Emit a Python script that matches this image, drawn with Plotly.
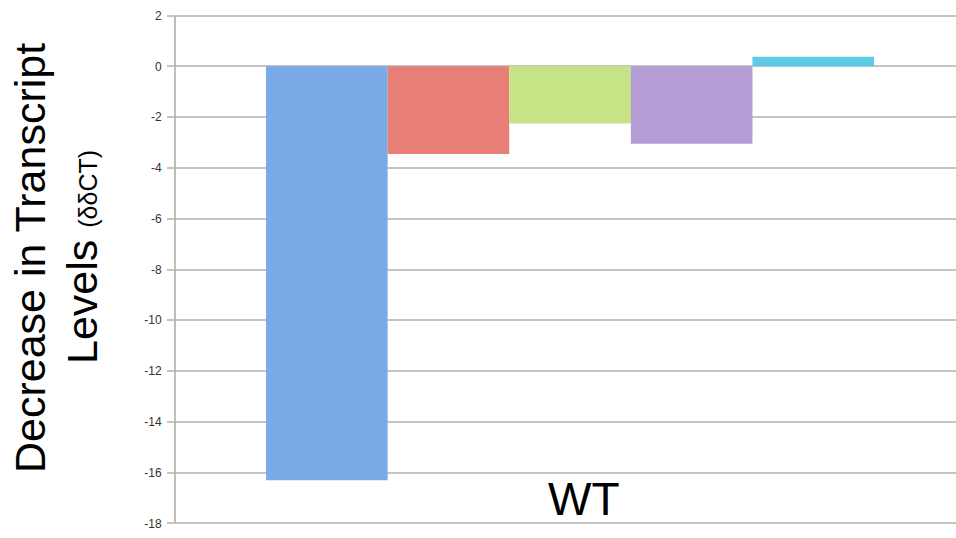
import plotly.graph_objects as go

category = ["WT"]
series_names = ["Gene 1", "Gene 2", "Gene 3", "Gene 4", "Gene 5"]
series_values = [-16.3, -3.45, -2.25, -3.05, 0.38]
series_colors = ["#78abe7", "#e87f77", "#c6e385", "#b39dd4", "#5ccbe3"]
y_ticks = [2, 0, -2, -4, -6, -8, -10, -12, -14, -16, -18]

W, H = 956, 538
ML, MR, MT, MB = 175, 0, 12.5, 11.5
PW = W - ML - MR
PH = H - MT - MB

fig = go.Figure()
for name, val, col in zip(series_names, series_values, series_colors):
    fig.add_trace(go.Bar(x=category, y=[val], name=name,
                         marker=dict(color=col, line=dict(width=0))))

def px_to_paper_x(px):
    return (px - ML) / PW

def px_to_paper_y(py):
    return 1 - (py - MT) / PH

fig.update_layout(
    width=W, height=H,
    margin=dict(l=ML, r=MR, t=MT, b=MB, pad=0),
    paper_bgcolor="white", plot_bgcolor="white",
    barmode="group", bargap=0.2304, bargroupgap=0,
    showlegend=False,
    font=dict(family="Liberation Sans, Arial, sans-serif", color="#333"),
    xaxis=dict(range=[-0.5, 0.4885], showticklabels=False, showgrid=False,
               zeroline=False, showline=False, ticks=""),
    yaxis=dict(range=[-18.1, 2.1], tickvals=y_ticks, ticktext=[str(t) for t in y_ticks],
               showgrid=True, gridcolor="#c4c4c4", gridwidth=1.5,
               zeroline=True, zerolinecolor="#c4c4c4", zerolinewidth=1.5,
               showline=False,
               ticks="outside", ticklen=7, tickcolor="#c4c4c4", tickwidth=1.5,
               tickfont=dict(size=12, color="#333"), ticklabelstandoff=3),
    shapes=[dict(type="line", xref="paper", yref="y", x0=0, x1=0, y0=-18, y1=2,
                 line=dict(color="#a8a8a8", width=1.5))],
    annotations=[
        dict(text="Decrease in Transcript", xref="paper", yref="paper",
             x=px_to_paper_x(30), y=px_to_paper_y(258), textangle=-90,
             showarrow=False, xanchor="center", yanchor="middle",
             font=dict(size=43, color="#000")),
        dict(text="Levels <span style='font-size:25px'>(δδCT)</span>", xref="paper", yref="paper",
             x=px_to_paper_x(82), y=px_to_paper_y(257), textangle=-90,
             showarrow=False, xanchor="center", yanchor="middle",
             font=dict(size=43, color="#000")),
        dict(text="WT", xref="paper", yref="paper",
             x=px_to_paper_x(584), y=px_to_paper_y(499),
             showarrow=False, xanchor="center", yanchor="middle",
             font=dict(size=46, color="#000")),
    ],
)

fig.write_html(
    "out.html",
    config={"displayModeBar": False},
    post_script=("document.documentElement.style.overflow='hidden';"
                 "document.body.style.margin='0';document.body.style.overflow='hidden';"),
)
